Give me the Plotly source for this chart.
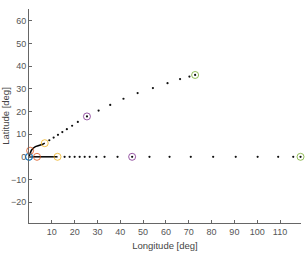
import plotly.graph_objects as go

# Equatorial track (latitude 0)
eq_track_lon = [0, 1.5, 3.5, 6.0, 9.0, 12.5]
eq_track_lat = [0, 0, 0, 0, 0, 0]
eq_dots_lon = [15.6, 17.8, 20.0, 22.2, 24.4, 26.6, 29.5, 33.1, 38.8, 45.2,
               52.8, 61.6, 70.9, 80.7, 90.6, 100.2, 109.2, 115.8, 119.0]
eq_dots_lat = [0] * len(eq_dots_lon)

# Inclined track
inc_track_lon = [0, 0.5, 1.0, 1.8, 2.8, 4.0, 5.0, 6.0, 6.9]
inc_track_lat = [0, 1.5, 2.8, 3.8, 4.5, 4.9, 5.1, 5.5, 6.0]
inc_dots_lon = [8.9, 10.8, 12.7, 14.6, 16.6, 18.9, 21.4, 25.4, 30.5, 35.6,
                41.4, 47.6, 54.3, 60.7, 66.2, 70.3, 72.8]
inc_dots_lat = [7.3, 8.5, 9.7, 10.9, 12.2, 13.7, 15.4, 17.8, 20.4, 22.9,
                25.6, 28.1, 30.3, 32.5, 34.3, 35.4, 36.1]

# Highlighted epochs (circles)
mark_colors = ["#0072BD", "#D95319", "#EDB120", "#7E2F8E", "#77AC30"]
eq_mark_lon = [0, 3.5, 12.5, 45.2, 119.0]
eq_mark_lat = [0, 0, 0, 0, 0]
inc_mark_lon = [0, 0.5, 6.9, 25.4, 72.8]
inc_mark_lat = [0, 2.7, 6.0, 17.8, 36.1]

x_ticks = [10, 20, 30, 40, 50, 60, 70, 80, 90, 100, 110]
y_ticks = [-20, -10, 0, 10, 20, 30, 40, 50, 60]

fig = go.Figure()
for lon, lat in [(eq_track_lon, eq_track_lat), (inc_track_lon, inc_track_lat)]:
    fig.add_trace(go.Scatter(x=lon, y=lat, mode="lines",
                             line=dict(color="black", width=1.5),
                             showlegend=False, hoverinfo="skip", cliponaxis=False))
for lon, lat in [(eq_dots_lon, eq_dots_lat), (inc_dots_lon, inc_dots_lat)]:
    fig.add_trace(go.Scatter(x=lon, y=lat, mode="markers",
                             marker=dict(color="#111111", size=2.2, line=dict(width=0)),
                             showlegend=False, cliponaxis=False))
for lon, lat in [(eq_mark_lon, eq_mark_lat), (inc_mark_lon, inc_mark_lat)]:
    fig.add_trace(go.Scatter(x=lon, y=lat, mode="markers",
                             marker=dict(symbol="circle-open", size=7,
                                         color=mark_colors, line=dict(width=0.8)),
                             showlegend=False, cliponaxis=False))

axis_common = dict(showgrid=False, zeroline=False, showline=True,
                   linecolor="#666666", linewidth=1, ticks="inside", ticklen=3,
                   tickcolor="#666666", tickwidth=1, mirror=False,
                   tickfont=dict(family="Liberation Sans", size=9, color="#555555"),
                   automargin=False)
fig.update_xaxes(range=[0, 119.2], tickvals=x_ticks,
                 title=dict(text="Longitude [deg]", standoff=6,
                            font=dict(family="Liberation Sans", size=9.5, color="#444444")),
                 **axis_common)
fig.update_yaxes(range=[-29.2, 65.2], tickvals=y_ticks,
                 title=dict(text="Latitude [deg]", standoff=3,
                            font=dict(family="Liberation Sans", size=9.5, color="#444444")),
                 **axis_common)
fig.update_layout(width=305, height=253,
                  margin=dict(l=29, r=4, t=9, b=30),
                  paper_bgcolor="white", plot_bgcolor="white")
fig.write_html("out.html")
